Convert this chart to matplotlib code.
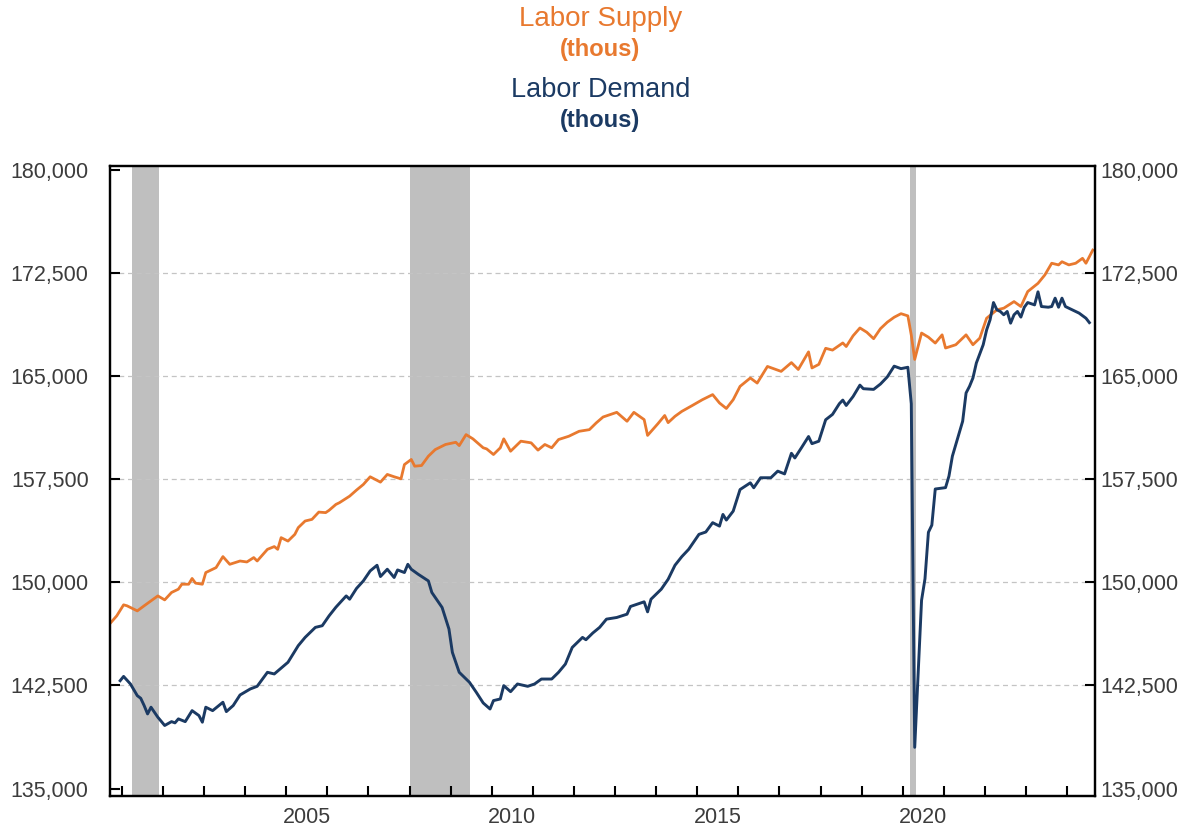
import numpy as np
import matplotlib
matplotlib.use("Agg")
import matplotlib.pyplot as plt

plt.rcParams["font.family"] = ["Liberation Sans", "DejaVu Sans"]

# LABOR SUPPLY (thous), monthly readings
supply_dates = [
    "2000-09", "2000-11", "2001-01", "2001-02", "2001-05", "2001-07", "2001-11", "2002-01", "2002-03", "2002-05",
    "2002-06", "2002-08", "2002-09", "2002-10", "2002-12", "2003-01", "2003-04", "2003-06", "2003-08", "2003-11",
    "2004-01", "2004-03", "2004-04", "2004-07", "2004-09", "2004-10", "2004-11", "2005-01", "2005-03", "2005-04",
    "2005-06", "2005-08", "2005-10", "2005-12", "2006-01", "2006-03", "2006-04", "2006-07", "2006-09", "2006-11",
    "2007-01", "2007-04", "2007-06", "2007-08", "2007-10", "2007-11", "2008-01", "2008-02", "2008-04", "2008-06",
    "2008-08", "2008-11", "2009-02", "2009-03", "2009-05", "2009-07", "2009-10", "2009-11", "2010-01", "2010-03",
    "2010-04", "2010-06", "2010-09", "2010-12", "2011-02", "2011-04", "2011-06", "2011-08", "2011-11", "2012-02",
    "2012-05", "2012-07", "2012-09", "2013-01", "2013-04", "2013-06", "2013-09", "2013-10", "2014-01", "2014-03",
    "2014-04", "2014-06", "2014-08", "2014-11", "2015-02", "2015-05", "2015-07", "2015-09", "2015-11", "2016-01",
    "2016-04", "2016-06", "2016-09", "2017-01", "2017-04", "2017-06", "2017-09", "2017-10", "2017-12", "2018-02",
    "2018-04", "2018-07", "2018-08", "2018-10", "2018-12", "2019-02", "2019-04", "2019-06", "2019-08", "2019-10",
    "2019-12", "2020-02", "2020-03", "2020-04", "2020-06", "2020-08", "2020-10", "2020-12", "2021-01", "2021-04",
    "2021-07", "2021-09", "2021-11", "2022-01", "2022-04", "2022-06", "2022-09", "2022-11", "2023-01", "2023-04",
    "2023-06", "2023-08", "2023-10", "2023-11", "2024-01", "2024-03", "2024-05", "2024-06", "2024-08",
]
supply = [
    147000, 147570, 148370, 148300, 147930, 148300, 149020, 148730, 149270, 149510,
    149870, 149870, 150290, 149950, 149870, 150720, 151080, 151880, 151320, 151560,
    151490, 151810, 151560, 152410, 152610, 152410, 153260, 153010, 153500, 153990,
    154470, 154590, 155120, 155080, 155250, 155680, 155800, 156280, 156720, 157130,
    157690, 157300, 157860, 157690, 157540, 158580, 158950, 158460, 158510, 159190,
    159670, 160040, 160200, 159960, 160760, 160450, 159800, 159720, 159310, 159800,
    160450, 159550, 160280, 160160, 159630, 160040, 159800, 160400, 160640, 161000,
    161120, 161610, 162040, 162380, 161730, 162380, 161850, 160700, 161550, 162150,
    161630, 162090, 162450, 162870, 163300, 163670, 163060, 162660, 163300, 164270,
    164880, 164510, 165720, 165360, 166000, 165500, 166780, 165610, 165870, 167040,
    166910, 167430, 167170, 167950, 168520, 168210, 167740, 168470, 168940, 169300,
    169560, 169400, 168000, 166230, 168150, 167850, 167420, 168020, 167060, 167300,
    168020, 167300, 167780, 169230, 169840, 169960, 170440, 170080, 171170, 171770,
    172380, 173230, 173110, 173340, 173110, 173230, 173590, 173230, 174190,
]

# LABOR DEMAND (thous)
demand_dates = [
    "2000-12", "2001-01", "2001-03", "2001-05", "2001-06", "2001-07", "2001-08", "2001-09", "2001-11", "2002-01",
    "2002-03", "2002-04", "2002-05", "2002-07", "2002-09", "2002-11", "2002-12", "2003-01", "2003-03", "2003-06",
    "2003-07", "2003-09", "2003-11", "2004-02", "2004-04", "2004-07", "2004-09", "2005-01", "2005-04", "2005-06",
    "2005-09", "2005-11", "2006-01", "2006-03", "2006-06", "2006-07", "2006-09", "2006-11", "2007-01", "2007-03",
    "2007-04", "2007-06", "2007-08", "2007-09", "2007-11", "2007-12", "2008-01", "2008-03", "2008-06", "2008-07",
    "2008-10", "2008-12", "2009-01", "2009-03", "2009-06", "2009-08", "2009-10", "2009-12", "2010-01", "2010-03",
    "2010-04", "2010-06", "2010-08", "2010-11", "2011-01", "2011-03", "2011-06", "2011-08", "2011-10", "2011-11",
    "2011-12", "2012-03", "2012-04", "2012-06", "2012-08", "2012-10", "2013-01", "2013-04", "2013-05", "2013-09",
    "2013-10", "2013-11", "2014-02", "2014-04", "2014-06", "2014-08", "2014-10", "2015-01", "2015-03", "2015-05",
    "2015-07", "2015-08", "2015-09", "2015-11", "2016-01", "2016-04", "2016-05", "2016-07", "2016-10", "2016-12",
    "2017-02", "2017-04", "2017-05", "2017-07", "2017-09", "2017-10", "2017-12", "2018-02", "2018-04", "2018-06",
    "2018-07", "2018-08", "2018-10", "2018-12", "2019-01", "2019-04", "2019-06", "2019-08", "2019-10", "2019-12",
    "2020-02", "2020-03", "2020-04", "2020-05", "2020-06", "2020-07", "2020-08", "2020-09", "2020-10", "2021-01",
    "2021-02", "2021-03", "2021-05", "2021-06", "2021-07", "2021-08", "2021-09", "2021-10", "2021-12", "2022-01",
    "2022-02", "2022-03", "2022-04", "2022-05", "2022-06", "2022-07", "2022-08", "2022-09", "2022-10", "2022-11",
    "2022-12", "2023-01", "2023-03", "2023-04", "2023-05", "2023-07", "2023-08", "2023-09", "2023-10", "2023-11",
    "2023-12", "2024-02", "2024-04", "2024-06", "2024-07",
]
demand = [
    142850, 143160, 142610, 141760, 141570, 141040, 140430, 140920, 140190, 139590,
    139870, 139780, 140070, 139870, 140670, 140310, 139830, 140920, 140670, 141280,
    140600, 141040, 141810, 142250, 142440, 143460, 143340, 144190, 145400, 146000,
    146730, 146850, 147570, 148200, 149020, 148780, 149560, 150110, 150840, 151250,
    150430, 150960, 150360, 150910, 150720, 151320, 150960, 150600, 150110, 149270,
    148180, 146610, 144910, 143460, 142730, 142000, 141230, 140790, 141400, 141520,
    142490, 142050, 142610, 142440, 142610, 142970, 142970, 143460, 144060, 144670,
    145270, 146000, 145830, 146320, 146730, 147330, 147450, 147690, 148250, 148590,
    147860, 148780, 149510, 150230, 151250, 151880, 152410, 153500, 153670, 154350,
    154100, 154950, 154540, 155190, 156760, 157250, 156890, 157620, 157620, 158100,
    157900, 159400, 159060, 159830, 160620, 160100, 160280, 161840, 162230, 163010,
    163270, 162880, 163530, 164360, 164100, 164050, 164440, 164960, 165740, 165560,
    165660, 163000, 138000, 143300, 148700, 150270, 153650, 154170, 156800, 156900,
    157740, 159190, 160880, 161730, 163790, 164270, 164880, 165970, 167300, 168380,
    169110, 170370, 169840, 169720, 169480, 169720, 168870, 169480, 169720, 169310,
    170030, 170370, 170200, 171150, 170080, 170030, 170080, 170690, 170030, 170690,
    170080, 169840, 169600, 169230, 168910,
]

# RECESSIONS (peak month, trough month)
recessions = [("2001-03", "2001-11"), ("2007-12", "2009-06"), ("2020-02", "2020-04")]

year_labels = ["2005", "2010", "2015", "2020"]
y_ticks = list(range(135000, 180001, 7500))


def to_year(d):
    y, m = d.split("-")
    return int(y) + (int(m) - 0.5) / 12


orange = "#E8792F"
navy = "#1B3A63"
grey_txt = "#3C3C3C"

fig = plt.figure(figsize=(11.96, 8.34), dpi=100)
ax = fig.add_axes([0.0916, 0.0456, 0.824, 0.7554])

for peak, trough in recessions:
    ax.axvspan(to_year(peak) + 1 / 24, to_year(trough) + 1 / 48,
               color="#BFBFBF", lw=0, zorder=1)

ax.plot([to_year(d) for d in supply_dates], supply, color=orange, lw=2.0, zorder=3)
ax.plot([to_year(d) for d in demand_dates], demand, color=navy, lw=2.1, zorder=3)

ax.set_xlim(2000.70, 2024.68)
ax.set_ylim(134460, 180310)

# y axis, left
ax.set_yticks(y_ticks)
ax.set_yticklabels([f"{v:,}" for v in y_ticks])
ax.tick_params(axis="y", direction="in", length=7, width=1.5, pad=15,
               labelsize=15.5, labelcolor=grey_txt, right=False)
ax.yaxis.grid(True, linestyle=(0, (4, 3)), color="#C4C4C4", lw=0.9, zorder=0)
for v, gl, t in zip(y_ticks, ax.get_ygridlines(), ax.yaxis.get_major_ticks()):
    if v in (135000, 180000):
        gl.set_visible(False)
        t.tick1line.set_visible(False)

# y axis, right
ax2 = ax.twinx()
ax2.set_ylim(ax.get_ylim())
ax2.set_yticks(y_ticks)
ax2.set_yticklabels([f"{v:,}" for v in y_ticks])
ax2.tick_params(axis="y", direction="in", length=7, width=1.5, pad=4,
                labelsize=15.5, labelcolor=grey_txt)
for v, t in zip(y_ticks, ax2.yaxis.get_major_ticks()):
    if v in (135000, 180000):
        t.tick2line.set_visible(False)

# x axis: marks at each January, labels mid-year
ax.set_xticks(np.arange(2001, 2025), minor=True)
ax.set_xticks([int(y) + 0.5 for y in year_labels])
ax.set_xticklabels(year_labels)
ax.tick_params(axis="x", which="minor", direction="in", length=7.5, width=1.5)
ax.tick_params(axis="x", which="major", length=0, pad=8,
               labelsize=15.5, labelcolor=grey_txt)

for a in (ax, ax2):
    for s in a.spines.values():
        s.set_color("black")
        s.set_linewidth(1.6)
        s.set_zorder(5)

# header
fig.text(0.502, 0.977, "Labor Supply", color=orange, fontsize=20, ha="center", va="center")
fig.text(0.502, 0.941, "(thous)", color=orange, fontsize=17, fontweight="bold", ha="center", va="center")
fig.text(0.502, 0.892, "Labor Demand", color=navy, fontsize=19.5, ha="center", va="center")
fig.text(0.502, 0.856, "(thous)", color=navy, fontsize=17, fontweight="bold", ha="center", va="center")

fig.savefig("out.png", dpi=100)
